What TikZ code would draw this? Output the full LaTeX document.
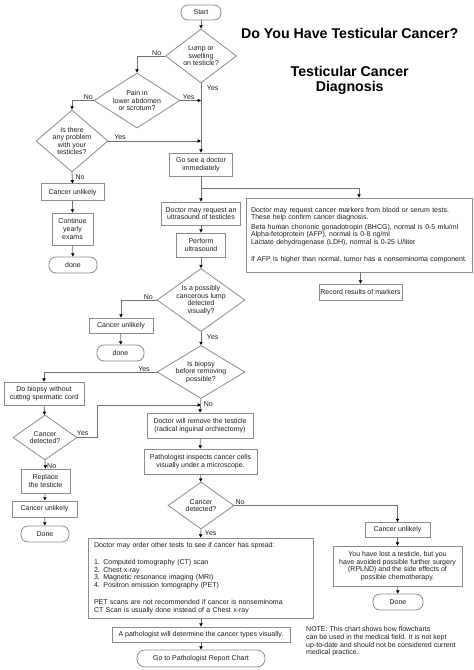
\documentclass[tikz,border=0pt]{standalone}
\usepackage{fontspec}
\setmainfont{Liberation Sans}
\usetikzlibrary{arrows.meta,shapes.geometric}
\definecolor{boxgray}{HTML}{8C8C8C}
\definecolor{linegray}{HTML}{707070}
\definecolor{inkc}{HTML}{1E1E1E}
\begin{document}
\begin{tikzpicture}[x=1pt,y=-1pt,
  base/.style={font=\fontsize{7}{7.6}\selectfont, text=inkc, align=center, inner sep=1pt},
  box/.style={base, draw=boxgray, line width=0.8pt, fill=white, rectangle},
  term/.style={box, rounded corners=7pt},
  dia/.style={diamond, draw=boxgray, line width=0.8pt, fill=white, inner sep=0pt},
  dtext/.style={base},
  conn/.style={draw=linegray, line width=0.8pt, -{Triangle[length=3.3pt,width=3.3pt,color=black]}},
  lab/.style={font=\fontsize{7}{7.6}\selectfont, text=inkc, inner sep=0pt},
  title/.style={font=\bfseries\fontsize{14.2}{15.7}\selectfont, align=center, inner sep=0pt}
]
\useasboundingbox (0,0) rectangle (474,670);

% titles
\node[title] (t1) at (349.7,33) {Do You Have Testicular Cancer?};
\node[title] (t2) at (349.7,80.5) {Testicular Cancer\\Diagnosis};

% left / main column
\node[term, minimum width=40pt, minimum height=15pt] (start) at (201,12.5) {Start};
\node[dia, minimum width=71pt, minimum height=54pt, label={[dtext]center:{Lump or\\swelling\\on testicle?}}] (d1) at (201,56) {};
\node[dia, minimum width=86pt, minimum height=55pt, label={[dtext]center:{Pain in\\lower abdomen\\or scrotum?}}] (d2) at (137,100.5) {};
\node[dia, minimum width=72pt, minimum height=62pt, label={[dtext]center:{Is there\\any problem\\with your\\testicles?}}] (d3) at (72,141) {};
\node[box, minimum width=63pt, minimum height=17pt] (cu1) at (72.5,192.3) {Cancer unlikely};
\node[box, minimum width=41pt, minimum height=32pt] (cont) at (72.5,229) {Continue\\yearly\\exams};
\node[term, minimum width=48pt, minimum height=16pt] (done1) at (73,265) {done};

\node[box, minimum width=63pt, minimum height=23pt] (go) at (201,164.5) {Go see a doctor\\immediately};
\coordinate (br) at (201,188);
\node[box, minimum width=79pt, minimum height=23pt] (us) at (201,213.5) {Doctor may request an\\ultrasound of testicles};
\node[box, minimum width=49pt, minimum height=24pt] (perf) at (201,245) {Perform\\ultrasound};
\node[dia, minimum width=88pt, minimum height=63pt, label={[dtext]center:{Is a possibly\\cancerous lump\\detected\\visually?}}] (d4) at (201,300) {};
\node[box, minimum width=64pt, minimum height=15pt] (cu2) at (121,325.5) {Cancer unlikely};
\node[term, minimum width=47pt, minimum height=16pt] (done2) at (120.5,353) {done};
\node[dia, minimum width=88pt, minimum height=53pt, label={[dtext]center:{Is biopsy\\before removing\\possible?}}] (d5) at (201,372) {};

\node[box, minimum width=80pt, minimum height=23pt] (biopsy) at (44,393.5) {Do biopsy without\\cutting spermatic cord};
\node[dia, minimum width=64pt, minimum height=45pt, label={[dtext]center:{Cancer\\detected?}}] (d6) at (45,437.5) {};
\node[box, minimum width=49pt, minimum height=24pt] (repl) at (45.5,481) {Replace\\the testicle};
\node[box, minimum width=65pt, minimum height=16pt] (cu3) at (44.5,509) {Cancer unlikely};
\node[term, minimum width=48pt, minimum height=16pt] (done3) at (45,534) {Done};
\coordinate (j1) at (201,405);

\node[box, minimum width=106pt, minimum height=25pt] (remove) at (200,425.5) {Doctor will remove the testicle\\(radical inguinal orchiectomy)};
\node[box, minimum width=113pt, minimum height=25pt] (path) at (200.5,461.5) {Pathologist inspects cancer cells\\visually under a microscope.};
\node[dia, minimum width=66pt, minimum height=47pt, label={[dtext]center:{Cancer\\detected?}}] (d7) at (201,505.5) {};
\node[box, minimum width=225pt, minimum height=80pt, align=left, text width=213pt, font=\fontsize{7}{7.5}\selectfont] (big) at (200.5,578) {Doctor may order other tests to see if cancer has spread:\\[10pt]
1. Computed tomography (CT) scan\\
2. Chest x-ray\\
3. Magnetic resonance imaging (MRI)\\
4. Positron emission tomography (PET)\\[10pt]
PET scans are not recommended if cancer is nonseminoma\\
CT Scan is usually done instead of a Chest x-ray};
\node[box, minimum width=178pt, minimum height=15pt] (pathdet) at (201,634.5) {A pathologist will determine the cancer types visually.};
\node[term, minimum width=128pt, minimum height=17pt, rounded corners=8pt] (goto) at (201,658.5) {Go to Pathologist Report Chart};

% right column
\node[box, minimum width=226pt, minimum height=74pt, align=left, text width=216pt, font=\fontsize{7}{7.4}\selectfont] (markers) at (359,235) {Doctor may request cancer markers from blood or serum tests.\\
These help confirm cancer diagnosis.\\[2.6pt]
Beta human chorionic gonadotropin (BHCG), normal is 0-5 mlu/ml\\
Alpha-fetoprotein (AFP), normal is 0-8 ng/ml\\
Lactate dehydrogenase (LDH), normal is 0-25 U/liter\\[10pt]
If AFP is higher than normal, tumor has a nonseminoma component.};
\node[box, minimum width=83pt, minimum height=16pt] (record) at (360.5,292) {Record results of markers};

\node[box, minimum width=65pt, minimum height=15pt] (cu4) at (397.5,530) {Cancer unlikely};
\node[box, minimum width=129pt, minimum height=40pt] (lost) at (397.5,566) {You have lost a testicle, but you\\have avoided possible further surgery\\(RPLND) and the side effects of\\possible chemotherapy.};
\node[term, minimum width=50pt, minimum height=16pt] (done4) at (398,602) {Done};

\node[base, align=left, anchor=north west, font=\fontsize{7}{7.7}\selectfont] (note) at (305,625.5) {NOTE: This chart shows how flowcharts\\can be used in the medical field. It is not kept\\up-to-date and should not be considered current\\medical practice.};

% connectors
\draw[conn] (start) -- (d1);
\draw[conn] (d1.west) -| (d2.north);
\draw[conn] (d1.south) -- (go.north);
\draw[conn] (d2.east) -- (d2.east -| go.north);
\draw[conn] (d2.west) -| (d3.north);
\draw[conn] (d3.east) -- (d3.east -| go.north);
\draw[conn] (d3.south) -- (cu1.north);
\draw[conn] (cu1) -- (cont);
\draw[conn] (cont) -- (done1);
\draw[conn] (go.south) -- (us.north);
\draw[conn] (br) -| (markers.north);
\draw[conn] (markers.south -| record.north) -- (record.north);
\draw[conn] (us) -- (perf);
\draw[conn] (perf) -- (d4);
\draw[conn] (d4.west) -| (cu2.north);
\draw[conn] (cu2) -- (done2);
\draw[conn] (d4.south) -- (d5.north);
\draw[conn] (d5.west) -| (biopsy.north);
\draw[conn] (biopsy) -- (d6);
\draw[conn] (d6.east) -- ++(20,0) |- (j1);
\draw[conn] (d5.south) -- (remove.north);
\draw[conn] (d6.south) -- (repl.north);
\draw[conn] (repl) -- (cu3);
\draw[conn] (cu3) -- (done3);
\draw[conn] (remove) -- (path);
\draw[conn] (path) -- (d7);
\draw[conn] (d7.east) -| (cu4.north);
\draw[conn] (d7.south) -- (big.north);
\draw[conn] (big.south -| pathdet.north) -- (pathdet.north);
\draw[conn] (pathdet) -- (goto);
\draw[conn] (cu4) -- (lost);
\draw[conn] (lost) -- (done4);

% labels
\node[lab] (l1) at (156.7,52.7) {No};
\node[lab] (l2) at (212.7,88.3) {Yes};
\node[lab] (l3) at (188.7,96.7) {Yes};
\node[lab] (l4) at (88.3,96.7) {No};
\node[lab] (l5) at (120,136.7) {Yes};
\node[lab] (l6) at (80,176.7) {No};
\node[lab] (l7) at (148.3,297.3) {No};
\node[lab] (l8) at (212.7,336.7) {Yes};
\node[lab] (l9) at (144,369.3) {Yes};
\node[lab] (l10) at (208.3,404.3) {No};
\node[lab] (l11) at (82.7,433.3) {Yes};
\node[lab] (l12) at (51.7,465.7) {No};
\node[lab] (l13) at (210.7,533.3) {Yes};
\node[lab] (l14) at (240,501.7) {No};
\end{tikzpicture}
\end{document}
